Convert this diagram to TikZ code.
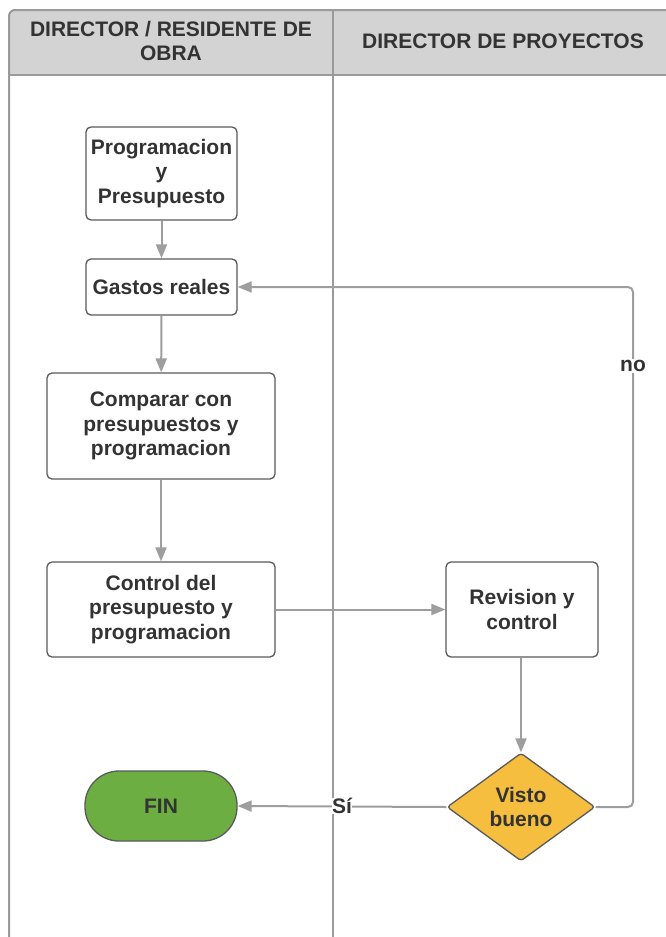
\documentclass[tikz,border=0pt]{standalone}
\usepackage{fontspec}
\setmainfont{Liberation Sans}
\usetikzlibrary{arrows.meta,shapes.geometric}
\definecolor{txt}{HTML}{333333}
\definecolor{lane}{HTML}{9A9A9A}
\definecolor{hdr}{HTML}{D3D3D3}
\definecolor{conn}{HTML}{9E9E9E}
\definecolor{bord}{HTML}{5A5A5A}
\definecolor{fingreen}{HTML}{6DAE43}
\definecolor{okyellow}{HTML}{F6BE3F}
\begin{document}
\begin{tikzpicture}[x=1pt,y=-1pt,
  every node/.style={font=\fontsize{21}{24.5}\selectfont\bfseries, text=txt},
  procbox/.style={draw=bord, line width=1.3pt, rounded corners=5pt, fill=white, align=center, inner sep=0pt},
  decbox/.style={diamond, draw=bord, line width=1.3pt, fill=okyellow, align=center, inner sep=0pt, minimum width=148pt, minimum height=108pt, rounded corners=3pt},
  endbox/.style={draw=bord, line width=1.3pt, fill=fingreen, rounded corners=34pt, minimum width=152pt, minimum height=70pt, inner sep=0pt},
  arr/.style={draw=conn, line width=2pt, -{Triangle[length=14pt,width=11pt]}},
  lbl/.style={fill=white, inner sep=1pt}
]
\useasboundingbox (0,0) rectangle (666,937);
% swimlane frame
\fill[hdr, rounded corners=6pt] (9,937) -- (9,10) -- (680,10) -- (680,75) -- (9,75) -- cycle;
\fill[white] (9,75) rectangle (680,937);
\draw[lane, line width=2pt, rounded corners=6pt] (9,937) -- (9,10) -- (680,10);
\draw[lane, line width=2pt] (9,75) -- (680,75);
\draw[lane, line width=2pt] (333,10) -- (333,937);
\node (h1) at (171,41) [align=center] {DIRECTOR / RESIDENTE DE\\OBRA};
\node (h2) at (503,41) {DIRECTOR DE PROYECTOS};
% process nodes
\node[procbox, minimum width=151pt, minimum height=93pt] (b1) at (161.5,173.5) {Programacion\\y\\Presupuesto};
\node[procbox, minimum width=151pt, minimum height=56pt] (b2) at (161.5,287) {Gastos reales};
\node[procbox, minimum width=228pt, minimum height=106pt] (b3) at (161,426) {Comparar con\\presupuestos y\\programacion};
\node[procbox, minimum width=228pt, minimum height=95pt] (b4) at (161,609.5) {Control del\\presupuesto y\\programacion};
\node[procbox, minimum width=152pt, minimum height=95pt] (b5) at (522,609.5) {Revision y\\control};
\node[decbox] (d) at (521,807) {Visto\\bueno};
\node[endbox] (fin) at (161,806) {FIN};
\coordinate (nr) at (633,287);
% connectors
\draw[arr] (b1) -- (b2);
\draw[arr] (b2) -- (b3);
\draw[arr] (b3) -- (b4);
\draw[arr] (b4) -- (b5);
\draw[arr] (b5.south -| d.north) -- (d.north);
\draw[arr, rounded corners=5pt] (d.east) -- (d.east -| nr) -- (nr) -- (b2.east);
\node[lbl] (no) at (633,366) {no};
\draw[arr] (d.west) -- (fin.east);
\node[lbl, inner sep=0.5pt] (si) at (342,806) {Sí};
\end{tikzpicture}
\end{document}
